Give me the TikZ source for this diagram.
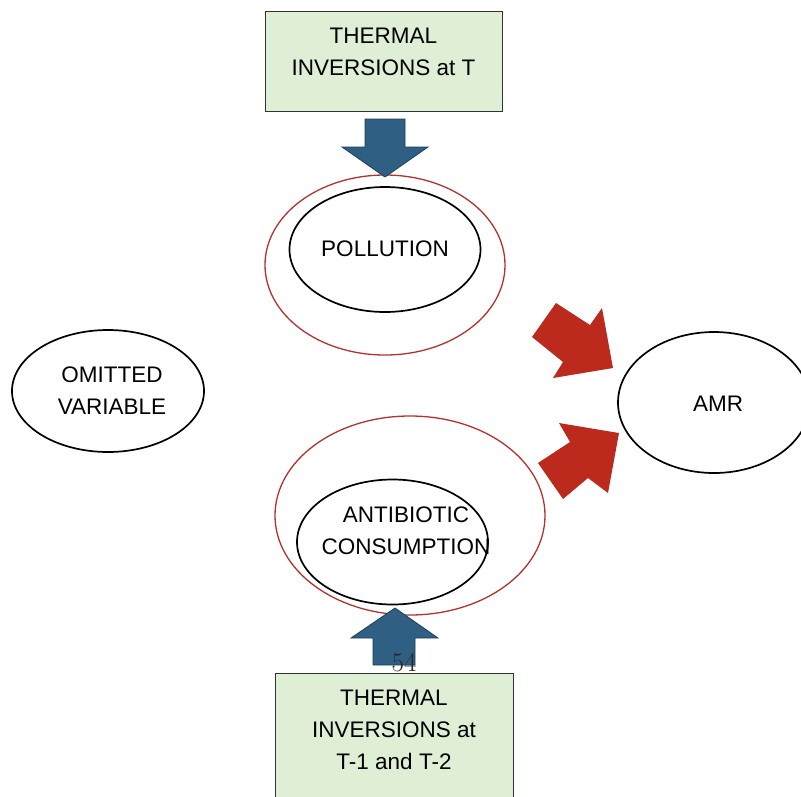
\documentclass[tikz,border=0pt]{standalone}
\usepackage{fontspec}
\setmainfont{Liberation Sans}
\newfontfamily\lmserif{Latin Modern Roman}
\usetikzlibrary{shapes.geometric}
\definecolor{boxgreen}{HTML}{DEEFD6}
\definecolor{boxline}{HTML}{333333}
\definecolor{bluefill}{HTML}{2F5F82}
\definecolor{blueline}{HTML}{1E3F5C}
\definecolor{redfill}{HTML}{BC2A1E}
\definecolor{redline}{HTML}{B5312A}
\tikzset{
  greenbox/.style={draw=boxline, line width=1pt, fill=boxgreen, inner sep=0pt},
  blackell/.style={ellipse, draw=black, line width=1.7pt, inner sep=0pt},
  redell/.style={ellipse, draw=redline, line width=1.3pt, inner sep=0pt},
  lbl/.style={font=\fontsize{22.5}{32}\selectfont, align=center, text=black},
  bluearrow/.style={fill=bluefill, draw=blueline, line width=0.8pt, line join=miter},
  redarrow/.style={fill=redfill, draw=none},
}
\begin{document}
\begin{tikzpicture}[x=1pt,y=-1pt]
\useasboundingbox (0,0) rectangle (801,796);
% boxes
\draw[greenbox] (265,11) rectangle (502,111);
\node[lbl] (toptext) at (383.5,52) {THERMAL\\INVERSIONS at T};
\draw[greenbox] (275,673) rectangle (513,812);
\node[lbl] (bottext) at (394,730) {THERMAL\\INVERSIONS at\\T-1 and T-2};
% ellipses
\node[redell, minimum width=240pt, minimum height=180pt] (pollOuter) at (385,265) {};
\node[blackell, minimum width=191pt, minimum height=125pt] (pollInner) at (385,249.5) {};
\node[lbl] at (385,249) {POLLUTION};
\node[blackell, minimum width=192pt, minimum height=122pt] (omitted) at (108,391) {};
\node[lbl] at (112,391) {OMITTED\\VARIABLE};
\node[blackell, minimum width=192pt, minimum height=141pt] (amr) at (714,402.5) {};
\node[lbl] at (718,404) {AMR};
\node[redell, minimum width=270pt, minimum height=199pt] (antiOuter) at (410,515.5) {};
\node[blackell, minimum width=191pt, minimum height=125pt] (antiInner) at (392.5,542) {};
\node[lbl] at (406,531) {ANTIBIOTIC\\CONSUMPTION};
% blue arrows
\draw[bluearrow] (365,119) -- (405,119) -- (405,147) -- (428,147) -- (385,177) -- (342,147) -- (365,147) -- cycle;
\draw[bluearrow] (373,665) -- (415,665) -- (415,638) -- (438,638) -- (395,608) -- (351,638) -- (373,638) -- cycle;
\node[font=\lmserif\fontsize{27}{27}\selectfont, text=black!85] (num) at (404,663) {54};
% red arrows
\fill[redarrow] (532,337) -- (556,303) -- (590,325) -- (602,308) -- (613,368) -- (553,378) -- (563,362) -- cycle;
\fill[redarrow] (538,463) -- (570,442) -- (559,423) -- (619,433) -- (608,493) -- (588,478) -- (563,499) -- cycle;
\end{tikzpicture}
\end{document}
